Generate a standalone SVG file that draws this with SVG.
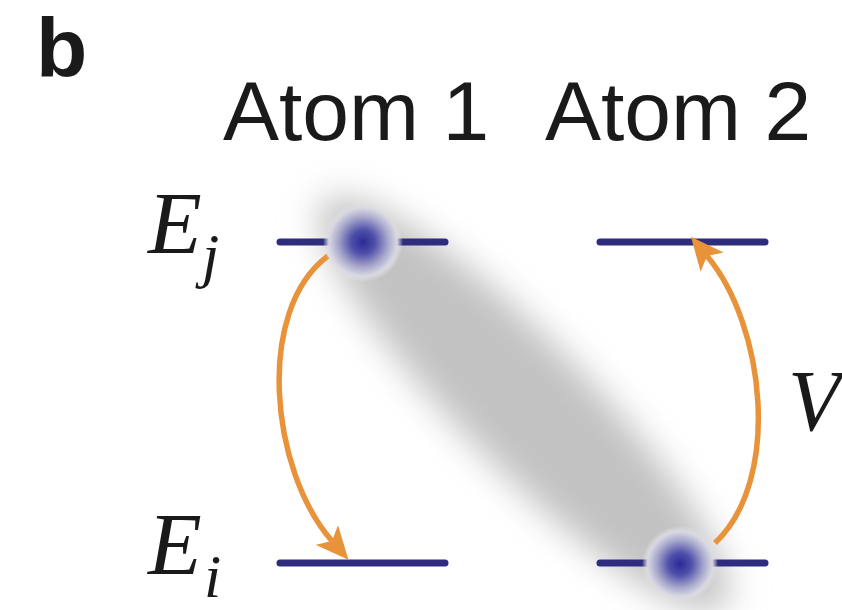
<svg xmlns="http://www.w3.org/2000/svg" width="842" height="610" viewBox="0 0 842 610">
<style>
.lvl{stroke:#2e2c7c;stroke-width:7;stroke-linecap:round;fill:none}
.arc{stroke:#e8923a;stroke-width:5.5;fill:none;marker-end:url(#head)}
.sans{font-family:"Liberation Sans",Arial,sans-serif;fill:#1a1a1a}
.math{font-family:"Liberation Serif","Times New Roman",serif;font-style:italic;fill:#1a1a1a}
</style>
<defs>
<filter id="blur" x="-30%" y="-80%" width="160%" height="260%"><feGaussianBlur stdDeviation="17"/></filter>
<radialGradient id="atom">
<stop offset="0" stop-color="#2a2a96"/>
<stop offset="0.3" stop-color="#5050aa"/>
<stop offset="0.62" stop-color="#a6a6cc"/>
<stop offset="0.85" stop-color="#d8d8e2"/>
<stop offset="1" stop-color="#e4e4e8" stop-opacity="0"/>
</radialGradient>
<marker id="head" markerUnits="userSpaceOnUse" markerWidth="34" markerHeight="30" viewBox="0 0 34 30" refX="8" refY="15" orient="auto">
<path d="M0,0 L33,15 L0,30 L8,15 z" fill="#e8923a"/>
</marker>
</defs>
<rect width="842" height="610" fill="#fff"/>
<g id="cloud">
<ellipse cx="524" cy="404" rx="285" ry="64" fill="#c2c2c2" filter="url(#blur)" transform="rotate(45.4 524 404)"/>
</g>
<g id="labels">
<text class="sans" x="36" y="77" font-size="84" font-weight="bold">b</text>
<text class="sans" x="223" y="140" font-size="84">Atom 1</text>
<text class="sans" x="545" y="140" font-size="84">Atom 2</text>
<text class="math" x="148" y="253" font-size="88">E<tspan font-size="62" x="202" y="276">j</tspan></text>
<text class="math" x="148" y="574" font-size="88">E<tspan font-size="62" x="204" y="597">i</tspan></text>
<text class="math" x="788" y="430" font-size="86">V</text>
</g>
<g id="levels">
<line class="lvl" x1="280" y1="242" x2="445" y2="242"/>
<line class="lvl" x1="600" y1="242" x2="765" y2="242"/>
<line class="lvl" x1="280" y1="563" x2="445" y2="563"/>
<line class="lvl" x1="600" y1="563" x2="765" y2="563"/>
</g>
<g id="connectors">
<path class="arc" d="M328,256 C255,310 270,470 332,541"/>
<path class="arc" d="M715,543 C782,480 765,325 707,256"/>
</g>
<g id="atom1">
<circle cx="363" cy="242" r="40" fill="url(#atom)"/>
</g>
<g id="atom2">
<circle cx="680" cy="564" r="38" fill="url(#atom)"/>
</g>
</svg>
